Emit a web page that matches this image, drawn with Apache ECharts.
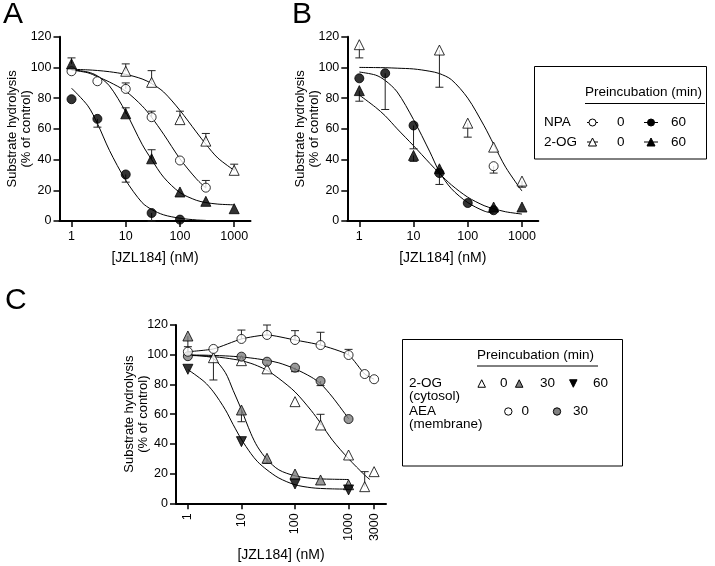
<!DOCTYPE html>
<html><head><meta charset="utf-8">
<script src="https://cdn.jsdelivr.net/npm/echarts@6/dist/echarts.min.js"></script>
<style>html,body{margin:0;padding:0;background:#fff}#c{width:715px;height:566px}</style>
</head><body><div id="c"></div>
<script>
const FONT = '"Liberation Sans", Arial, Helvetica, sans-serif';

// ---------- tick labels ----------
const xTickValuesAB = [1, 10, 100, 1000];
const xTickValuesC = [1, 10, 100, 1000, 3000];

// ---------- Panel A ----------
const aDoses = [1, 3, 10, 30, 100, 300, 1000];
const aNpa0 = [97.5, 91, 86, 67.6, 39.4, 21.7, null];
const aNpa0Err = [null, null, 89.9, 71.5, null, 26.4, null];
const aNpa60 = [79.3, 66.5, 30.3, 5.2, 0.9, null, null];
const aNpa60Err = [null, 61.1, 25.3, 0, null, null, null];
const aOg0 = [null, null, 97.5, 90.3, 66, 52, 33];
const aOg0Err = [null, null, 102.3, 97.9, 71.5, 57, 37];
const aOg60 = [102.3, null, 69.8, 40.5, 18.9, 12.8, 8];
const aOg60Err = [106.2, null, 73.7, 46.4, null, null, null];

const fitDosesAB = [1, 2, 3, 5, 10, 20, 30, 50, 100, 200, 300, 500, 1000];
const aNpa0Fit = [98.3, 96.5, 94, 90.5, 84.5, 75, 67.5, 56.5, 40.5, 27.5, 21.5, null, null];
const aNpa60Fit = [86.5, 75, 63.5, 46, 26.5, 12, 7.5, 4, 1.8, 0.7, 0.4, null, null];
const aOg0Fit = [98.8, 98.4, 98, 97.2, 95.5, 92.5, 89.5, 84, 72, 58, 50, 41, 33];
const aOg60Fit = [98.5, 97, 94.5, 88, 71, 50, 40, 28.5, 18.5, 13.5, 12, 11, 10.5];

// ---------- Panel B ----------
const bDoses = [1, 3, 10, 30, 100, 300, 1000];
const bNpa0 = [null, null, null, null, null, 35.7, null];
const bNpa0Err = [null, null, null, null, null, 31.2, null];
const bNpa60 = [92.9, 96.2, 62.2, 31.2, 11.7, 7, null];
const bNpa60Err = [null, 72.6, 47, 23.8, null, null, null];
const bOg0 = [114.8, null, null, 111.3, 63.7, 48.1, 26];
const bOg0Err = [106.2, null, null, 87.1, 54.6, null, 22];
const bOg60 = [84.9, null, 42.7, 34, null, 9.1, 9.1];
const bOg60Err = [78, null, 38.8, null, null, null, null];

const bNpa60Fit = [97, 95, 91.5, 84, 66, 45, 32, 21, 12, 6.5, 5, null, null];
const bOg0Fit = [100, 99.9, 99.8, 99.5, 99, 97.5, 96, 92, 80, 62, 50, 35, 19.5];
const bOg60Fit = [82, 74, 68.5, 60, 49, 37.5, 31, 23.5, 15.5, 10, 8, 6, 4.5];

// ---------- Panel C ----------
const cDoses = [1, 3, 10, 30, 100, 300, 1000, 2000, 3000];
const cAea0 = [102, 103.9, 110.6, 113.3, 109.9, 106.5, 99.8, 87, 83.5];
const cAea0Err = [105.4, null, 116.6, 120, 116.2, 115.1, 103.6, null, null];
const cAea30 = [99, null, 98.7, 95.3, 91.3, 82.3, 56.7, null, null];
const cAea30Err = [null, null, null, null, 88.6, 79.2, null, null, null];
const cOg0 = [null, 98, 96, 90.5, 68.4, 52.7, 32.5, 11.2, 21.3];
const cOg0Err = [null, 83, null, null, null, 59.9, null, 21.3, null];
const cOg30 = [112.6, null, 62.8, 30.3, 19.7, 15.7, 12.5, null, null];
const cOg30Err = [100, null, 54.9, 26.9, null, null, null, null, null];
const cOg60 = [90.2, null, 41.5, null, 13, null, 9, null, null];

const fitDosesC = [1, 2, 3, 5, 7, 10, 15, 20, 30, 50, 100, 200, 300, 500, 1000, 2000, 2500];
const cAea30Fit = [99.8, 99.7, 99.5, 99.2, 98.9, 98.5, 97.8, 97.2, 96.2, 94.5, 90.5, 85, 80.5, 71.5, 57, null, null];
const cOg0Fit = [99.5, 99.2, 98.7, 97.8, 97, 96, 94.2, 92.5, 89.5, 84, 75, 62.5, 54, 42.5, 30, 19, 16];
const cOg30Fit = [99.8, 99, 97.5, 88, 76, 63, 47, 38, 29.5, 22.5, 18.5, 16.8, 16.4, 16.2, 16, null, null];
const cOg60Fit = [90, 82, 75, 63, 53, 43, 33.5, 28, 22.5, 17, 12.5, 10.5, 10, 9.7, 9.5, null, null];

// ---------- helpers ----------
function pts(doses, vals) {
  const out = [];
  doses.forEach((d, i) => { if (vals[i] != null) out.push([d, vals[i]]); });
  return out;
}
function errs(doses, vals, ends) {
  const out = [];
  doses.forEach((d, i) => { if (vals[i] != null && ends[i] != null) out.push([d, vals[i], ends[i]]); });
  return out;
}
const OPEN = { color: '#fff', borderColor: '#000', borderWidth: 1 };
const FILLED = { color: '#000', borderColor: '#000', borderWidth: 1 };
const GRAY = { color: '#808080', borderColor: '#000', borderWidth: 1 };

function fitSeries(idx, doses, vals, name) {
  return {
    type: 'line', name: name, xAxisIndex: idx, yAxisIndex: idx,
    data: pts(doses, vals), showSymbol: false, symbol: 'none',
    smooth: 0.3,
    lineStyle: { color: '#000', width: 1 }, z: 2, silent: true
  };
}
function pointSeries(idx, doses, vals, name, symbol, style, rotate) {
  return {
    type: 'scatter', name: name, xAxisIndex: idx, yAxisIndex: idx,
    data: pts(doses, vals), symbol: symbol,
    symbolSize: symbol === 'circle' ? 9 : 10,
    symbolRotate: rotate || 0,
    itemStyle: style, z: 4
  };
}
function renderErr(params, api) {
  const p0 = api.coord([api.value(0), api.value(1)]);
  const p1 = api.coord([api.value(0), api.value(2)]);
  const w = 4;
  return {
    type: 'group', children: [
      { type: 'line', shape: { x1: p0[0], y1: p0[1], x2: p1[0], y2: p1[1] }, style: { stroke: '#222', lineWidth: 1 } },
      { type: 'line', shape: { x1: p1[0] - w, y1: p1[1], x2: p1[0] + w, y2: p1[1] }, style: { stroke: '#222', lineWidth: 1 } }
    ]
  };
}
function errSeries(idx, data) {
  return {
    type: 'custom', xAxisIndex: idx, yAxisIndex: idx, data: data,
    renderItem: renderErr, encode: { x: 0, y: [1, 2] }, z: 3, silent: true
  };
}

function xAxisCfg(idx, maxV, ticks, rotate) {
  return {
    type: 'log', logBase: 10, gridIndex: idx, min: 0.6, max: maxV,
    name: '[JZL184] (nM)', nameLocation: 'middle', nameGap: rotate ? 45 : 30,
    nameMoveOverlap: false,
    nameTextStyle: { fontSize: 14, fontFamily: FONT, color: '#000' },
    axisLine: { show: true, onZero: false, lineStyle: { color: '#000', width: 2 } },
    axisTick: { show: true, inside: false, length: 6, lineStyle: { color: '#000', width: 1.5 }, customValues: ticks },
    axisLabel: {
      customValues: ticks, rotate: rotate || 0, margin: rotate ? 10 : 9,
      fontSize: 12.5, fontFamily: FONT, color: '#000',
      formatter: v => String(Math.round(v))
    },
    minorTick: { show: false }, splitLine: { show: false }, minorSplitLine: { show: false }
  };
}
function yAxisCfg(idx) {
  return {
    type: 'value', gridIndex: idx, min: 0, max: 120, interval: 20,
    name: 'Substrate hydrolysis\n(% of control)', nameLocation: 'middle', nameRotate: 90, nameGap: 26,
    nameMoveOverlap: false,
    nameTextStyle: { fontSize: 13, lineHeight: 14, fontFamily: FONT, color: '#000' },
    axisLine: { show: true, onZero: false, lineStyle: { color: '#000', width: 2 } },
    axisTick: { show: true, inside: false, length: 6, lineStyle: { color: '#000', width: 1.5 } },
    axisLabel: { fontSize: 12.5, fontFamily: FONT, color: '#000', margin: 8 },
    splitLine: { show: false }
  };
}

// ---------- legend graphics ----------
function txt(x, y, s, size) {
  return { type: 'text', x: x, y: y, style: { text: s, fontSize: size || 13.5, fontFamily: FONT, fill: '#000', verticalAlign: 'middle', align: 'left' } };
}
function hline(x1, x2, y, w) {
  return { type: 'line', shape: { x1: x1, y1: y, x2: x2, y2: y }, style: { stroke: '#000', lineWidth: w || 1 } };
}
function circ(cx, cy, r, fill) {
  return { type: 'circle', shape: { cx: cx, cy: cy, r: r }, style: { fill: fill, stroke: '#000', lineWidth: 1 } };
}
function tri(cx, cy, s, fill, down) {
  const h = s / 2;
  const p = down ? [[cx - h, cy - h], [cx + h, cy - h], [cx, cy + h]] : [[cx, cy - h], [cx + h, cy + h], [cx - h, cy + h]];
  return { type: 'polygon', shape: { points: p }, style: { fill: fill, stroke: '#000', lineWidth: 1 } };
}

const legendB = [
  { type: 'rect', shape: { x: 534.5, y: 66.5, width: 172, height: 92.5 }, style: { fill: 'none', stroke: '#000', lineWidth: 1 } },
  txt(585, 92, 'Preincubation (min)'),
  hline(585, 705, 103.5),
  txt(544, 122.5, 'NPA'),
  txt(544, 142, '2-OG'),
  hline(587, 598, 122.5), circ(592.5, 122.5, 3.5, '#fff'), txt(617, 122.5, '0'),
  hline(644, 658, 122.5), circ(651, 122.5, 3.5, '#000'), txt(671, 122.5, '60'),
  hline(587, 598, 142), tri(592.5, 142, 8, '#fff'), txt(617, 142, '0'),
  hline(644, 658, 142), tri(651, 142, 8, '#000'), txt(671, 142, '60')
];
const legendC = [
  { type: 'rect', shape: { x: 402.5, y: 339.5, width: 220, height: 126.5 }, style: { fill: 'none', stroke: '#000', lineWidth: 1 } },
  txt(477, 355, 'Preincubation (min)'),
  hline(477, 598, 366),
  txt(409, 383.5, '2-OG'), txt(409, 396.5, '(cytosol)'),
  tri(481.7, 383.5, 7.5, '#fff'), txt(500, 383.5, '0'),
  tri(519.2, 383.5, 7.5, '#808080'), txt(540, 383.5, '30'),
  tri(573.3, 383.5, 7.5, '#000', true), txt(593, 383.5, '60'),
  txt(409, 411.5, 'AEA'), txt(409, 424.5, '(membrane)'),
  circ(508.3, 411.5, 3.7, '#fff'), txt(521.5, 411.5, '0'),
  circ(557, 411.5, 3.7, '#808080'), txt(573, 411.5, '30')
];

const option = {
  animation: false,
  backgroundColor: '#fff',
  textStyle: { fontFamily: FONT },
  title: [
    { text: 'A', left: 3, top: 0, padding: 0, textStyle: { fontSize: 30, fontWeight: 'normal', color: '#000', fontFamily: FONT } },
    { text: 'B', left: 292, top: 0, padding: 0, textStyle: { fontSize: 30, fontWeight: 'normal', color: '#000', fontFamily: FONT } },
    { text: 'C', left: 5, top: 286, padding: 0, textStyle: { fontSize: 30, fontWeight: 'normal', color: '#000', fontFamily: FONT } }
  ],
  grid: [
    { left: 59.5, top: 36.7, width: 191, height: 184.3 },
    { left: 347.3, top: 36.7, width: 191, height: 184.3 },
    { left: 176, top: 325, width: 210, height: 178.3 }
  ],
  xAxis: [xAxisCfg(0, 2000, xTickValuesAB), xAxisCfg(1, 2000, xTickValuesAB), xAxisCfg(2, 5000, xTickValuesC, 90)],
  yAxis: [yAxisCfg(0), yAxisCfg(1), yAxisCfg(2)],
  graphic: legendB.concat(legendC),
  series: [
    // Panel A
    fitSeries(0, fitDosesAB, aNpa0Fit, 'A NPA 0 fit'),
    fitSeries(0, fitDosesAB, aNpa60Fit, 'A NPA 60 fit'),
    fitSeries(0, fitDosesAB, aOg0Fit, 'A 2-OG 0 fit'),
    fitSeries(0, fitDosesAB, aOg60Fit, 'A 2-OG 60 fit'),
    errSeries(0, errs(aDoses, aNpa0, aNpa0Err)),
    errSeries(0, errs(aDoses, aNpa60, aNpa60Err)),
    errSeries(0, errs(aDoses, aOg0, aOg0Err)),
    errSeries(0, errs(aDoses, aOg60, aOg60Err)),
    pointSeries(0, aDoses, aOg0, 'A 2-OG 0', 'triangle', OPEN),
    pointSeries(0, aDoses, aNpa0, 'A NPA 0', 'circle', OPEN),
    pointSeries(0, aDoses, aNpa60, 'A NPA 60', 'circle', FILLED),
    pointSeries(0, aDoses, aOg60, 'A 2-OG 60', 'triangle', FILLED),
    // Panel B
    fitSeries(1, fitDosesAB, bNpa60Fit, 'B NPA 60 fit'),
    fitSeries(1, fitDosesAB, bOg0Fit, 'B 2-OG 0 fit'),
    fitSeries(1, fitDosesAB, bOg60Fit, 'B 2-OG 60 fit'),
    errSeries(1, errs(bDoses, bNpa0, bNpa0Err)),
    errSeries(1, errs(bDoses, bNpa60, bNpa60Err)),
    errSeries(1, errs(bDoses, bOg0, bOg0Err)),
    errSeries(1, errs(bDoses, bOg60, bOg60Err)),
    pointSeries(1, bDoses, bOg0, 'B 2-OG 0', 'triangle', OPEN),
    pointSeries(1, bDoses, bNpa0, 'B NPA 0', 'circle', OPEN),
    pointSeries(1, bDoses, bOg60, 'B 2-OG 60', 'triangle', FILLED),
    pointSeries(1, bDoses, bNpa60, 'B NPA 60', 'circle', FILLED),
    // Panel C
    {
      type: 'line', name: 'C AEA 0 line', xAxisIndex: 2, yAxisIndex: 2,
      data: pts(cDoses, cAea0), showSymbol: false, symbol: 'none', smooth: 0.2,
      lineStyle: { color: '#000', width: 1 }, z: 2, silent: true
    },
    fitSeries(2, fitDosesC, cAea30Fit, 'C AEA 30 fit'),
    fitSeries(2, fitDosesC, cOg0Fit, 'C 2-OG 0 fit'),
    fitSeries(2, fitDosesC, cOg30Fit, 'C 2-OG 30 fit'),
    fitSeries(2, fitDosesC, cOg60Fit, 'C 2-OG 60 fit'),
    errSeries(2, errs(cDoses, cAea0, cAea0Err)),
    errSeries(2, errs(cDoses, cAea30, cAea30Err)),
    errSeries(2, errs(cDoses, cOg0, cOg0Err)),
    errSeries(2, errs(cDoses, cOg30, cOg30Err)),
    pointSeries(2, cDoses, cOg0, 'C 2-OG 0', 'triangle', OPEN),
    pointSeries(2, cDoses, cAea30, 'C AEA 30', 'circle', GRAY),
    pointSeries(2, cDoses, cOg30, 'C 2-OG 30', 'triangle', GRAY),
    pointSeries(2, cDoses, cOg60, 'C 2-OG 60', 'triangle', FILLED, 180),
    pointSeries(2, cDoses, cAea0, 'C AEA 0', 'circle', OPEN)
  ]
};

const chart = echarts.init(document.getElementById('c'), null, { renderer: 'canvas' });
chart.setOption(option);
</script>
</body></html>
